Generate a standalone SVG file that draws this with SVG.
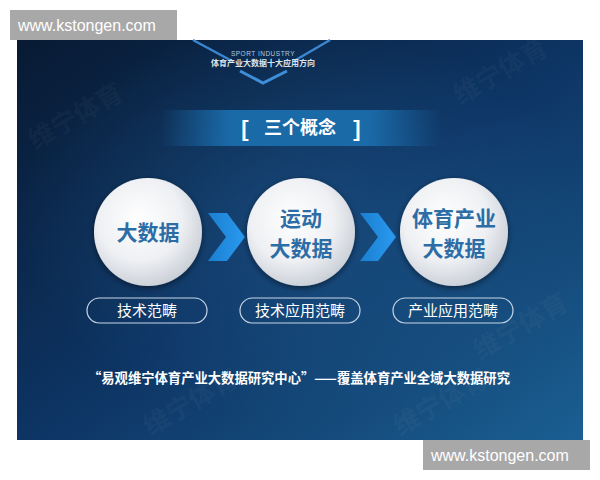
<svg xmlns="http://www.w3.org/2000/svg" width="600" height="480" viewBox="0 0 600 480">
<defs>
<linearGradient id="bg" x1="0" y1="0" x2="1" y2="1">
<stop offset="0" stop-color="#081a33"/>
<stop offset="0.5" stop-color="#0d3463"/>
<stop offset="1" stop-color="#1b5f92"/>
</linearGradient>
<radialGradient id="glow" cx="0.5" cy="0.45" r="0.5">
<stop offset="0" stop-color="#2a6fa8" stop-opacity="0.35"/>
<stop offset="1" stop-color="#2a6fa8" stop-opacity="0"/>
</radialGradient>
<linearGradient id="band" x1="0" y1="0" x2="1" y2="0">
<stop offset="0" stop-color="#1a67a6" stop-opacity="0"/>
<stop offset="0.25" stop-color="#1a6aa8"/>
<stop offset="0.75" stop-color="#1a6aa8"/>
<stop offset="1" stop-color="#1a67a6" stop-opacity="0"/>
</linearGradient>
<radialGradient id="ball" cx="0.42" cy="0.38" r="0.65">
<stop offset="0" stop-color="#ffffff"/>
<stop offset="0.6" stop-color="#eef0f3"/>
<stop offset="1" stop-color="#c9ced6"/>
</radialGradient>
<linearGradient id="arr" x1="0" y1="0" x2="1" y2="0">
<stop offset="0" stop-color="#1a7fd0"/>
<stop offset="1" stop-color="#2a9af0"/>
</linearGradient>
<filter id="sh" x="-30%" y="-30%" width="160%" height="160%">
<feGaussianBlur in="SourceAlpha" stdDeviation="3"/>
<feOffset dy="2"/>
<feComponentTransfer><feFuncA type="linear" slope="0.5"/></feComponentTransfer>
<feMerge><feMergeNode/><feMergeNode in="SourceGraphic"/></feMerge>
</filter>
</defs>
<style>
.wm{font-family:"Noto Sans CJK SC",sans-serif;font-weight:bold;font-size:26px;fill:#ffffff;fill-opacity:0.05}
.url{font-family:"Liberation Sans",Arial,sans-serif;font-size:16px;fill:#ffffff}
.big{font-family:"Noto Sans CJK SC",sans-serif;font-weight:bold;font-size:21px;fill:#2d6da6;text-anchor:middle}
.pill{fill:none;stroke:#c8d6e6;stroke-width:1.2}
.pt{font-family:"Noto Sans CJK SC",sans-serif;font-size:15px;fill:#ffffff;text-anchor:middle}
.ball{fill:url(#ball);filter:url(#sh)}
</style>
<rect width="600" height="480" fill="#ffffff"/>
<rect x="17" y="40" width="566" height="400" fill="url(#bg)"/>
<rect x="17" y="40" width="566" height="400" fill="url(#glow)"/>
<g id="watermarks">
<text class="wm" transform="translate(35,150) rotate(-30)">维宁体育</text>
<text class="wm" transform="translate(460,105) rotate(-30)">维宁体育</text>
<text class="wm" transform="translate(150,436) rotate(-30)">维宁体育</text>
<text class="wm" transform="translate(400,436) rotate(-30)">维宁体育</text>
<text class="wm" transform="translate(480,360) rotate(-30)">维宁体育</text>
</g>
<g id="header">
<polyline points="193,40 232,61" fill="none" stroke="#3a86d0" stroke-width="2.5"/>
<polyline points="330,40 294,61" fill="none" stroke="#3a86d0" stroke-width="2.5"/>
<polyline points="240,71 263,83 287,71" fill="none" stroke="#3f8fd8" stroke-width="3"/>
<text x="263" y="56" font-family="Liberation Sans,sans-serif" font-size="6.5" fill="#b8c8dc" text-anchor="middle" letter-spacing="0.5">SPORT INDUSTRY</text>
<text x="263" y="66" font-family="Noto Sans CJK SC,sans-serif" font-weight="bold" font-size="8" fill="#d9e4f0" text-anchor="middle">体育产业大数据十大应用方向</text>
</g>
<g id="title">
<rect x="160" y="110" width="280" height="36" fill="url(#band)"/>
<text x="245" y="136" font-family="Liberation Sans,sans-serif" font-weight="bold" font-size="22" fill="#ffffff" text-anchor="middle">[</text>
<text x="357" y="136" font-family="Liberation Sans,sans-serif" font-weight="bold" font-size="22" fill="#ffffff" text-anchor="middle">]</text>
<text x="300" y="134" font-family="Noto Sans CJK SC,sans-serif" font-weight="bold" font-size="18" fill="#ffffff" text-anchor="middle">三个概念</text>
</g>
<g id="connectors">
<polygon points="208,213 227,213 245,237 227,261 208,261 226,237" fill="url(#arr)"/>
<polygon points="360,213 378,213 396,237 378,261 360,261 378,237" fill="url(#arr)"/>
</g>
<g id="node1">
<circle class="ball" cx="148" cy="232" r="54"/>
<text class="big" x="148" y="240">大数据</text>
<rect class="pill" x="87" y="298" width="120" height="25" rx="12.5"/>
<text class="pt" x="147" y="316">技术范畴</text>
</g>
<g id="node2">
<circle class="ball" cx="301" cy="232" r="54"/>
<text class="big" x="301" y="226">运动</text>
<text class="big" x="301" y="256">大数据</text>
<rect class="pill" x="240" y="298" width="120" height="25" rx="12.5"/>
<text class="pt" x="300" y="316">技术应用范畴</text>
</g>
<g id="node3">
<circle class="ball" cx="454" cy="232" r="54"/>
<text class="big" x="454" y="226">体育产业</text>
<text class="big" x="454" y="256">大数据</text>
<rect class="pill" x="393" y="298" width="120" height="25" rx="12.5"/>
<text class="pt" x="453" y="316">产业应用范畴</text>
</g>
<text x="88" y="383" textLength="422" lengthAdjust="spacingAndGlyphs" font-family="Noto Sans CJK SC,sans-serif" font-weight="bold" font-size="13.5" fill="#ffffff">“易观维宁体育产业大数据研究中心”——覆盖体育产业全域大数据研究</text>
<g id="url-top">
<rect x="10" y="10" width="167" height="30" fill="#a8a8a8"/>
<text class="url" x="18" y="31">www.kstongen.com</text>
</g>
<g id="url-bottom">
<rect x="423" y="440" width="167" height="30" fill="#a8a8a8"/>
<text class="url" x="431" y="461">www.kstongen.com</text>
</g>
</svg>
